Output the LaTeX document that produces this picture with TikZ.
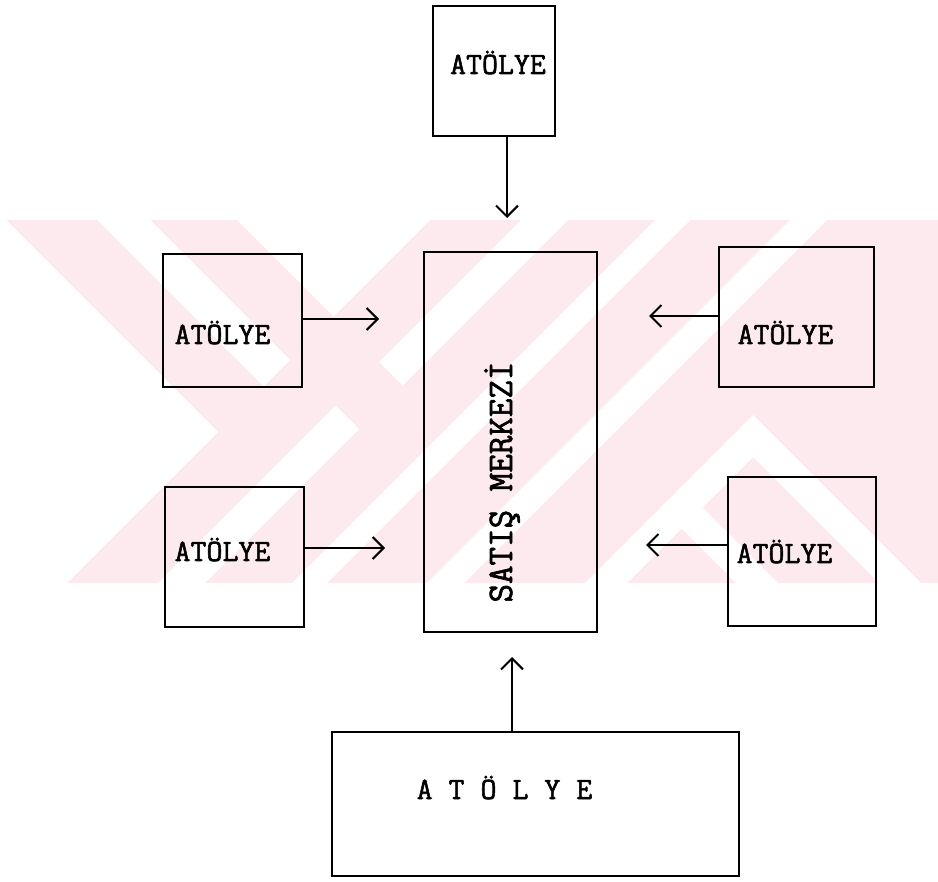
\documentclass[tikz,border=0pt]{standalone}
\usepackage{fontspec}
\setmonofont{Latin Modern Mono}[FakeBold=1.8]
\usetikzlibrary{arrows.meta}
\definecolor{wmpink}{RGB}{253,234,238}
\tikzset{
	kutu/.style={draw,line width=2.5pt,inner sep=0pt,outer sep=0pt},
	yazi/.style={font=\ttfamily\fontsize{31}{31}\selectfont,inner sep=0pt,anchor=base},
	ok/.style={->,line width=2.1pt},
}
\begin{document}
\begin{tikzpicture}[>={Straight Barb[length=11pt,width=22pt]},x=1pt,y=-1pt]
	\useasboundingbox (0,0) rectangle (938,882);
	% filigran
	\begin{scope}
		\clip (0,220) rectangle (938,583);
		\fill[wmpink] (0,220) rectangle (938,583);
		\fill[white] (0,220) -- (6,220) -- (218,432) -- (67,583) -- (0,583) -- cycle;
		\fill[white] (97,220) -- (150,220) -- (290,360) -- (263.5,386.5) -- cycle;
		\fill[white] (237,220) -- (430,220) -- (333.5,316.5) -- cycle;
		\fill[white] (521,220) -- (568,220) -- (402.5,385.5) -- (379,362) -- cycle;
		\fill[white] (335.5,405.5) -- (359,429) -- (205,583) -- (158,583) -- cycle;
		\fill[white] (655,220) -- (690,220) -- (327,583) -- (292,583) -- cycle;
		\fill[white] (790,220) -- (827,220) -- (464,583) -- (427,583) -- cycle;
		\fill[white] (585,583) -- (753,415) -- (921,583) -- (879,583) -- (753,457) -- (627,583) -- cycle;
		\fill[white] (683,488) -- (778,583) -- (736,583) -- (662,509) -- cycle;
	\end{scope}
	% kutular
	\node[kutu,minimum width=122pt,minimum height=130pt] (ust) at (494,71) {};
	\node[kutu,minimum width=173pt,minimum height=380pt] (merkez) at (510.5,442) {};
	\node[kutu,minimum width=139pt,minimum height=133pt] (solust) at (232.5,320.5) {};
	\node[kutu,minimum width=139pt,minimum height=140pt] (solalt) at (234.5,557) {};
	\node[kutu,minimum width=155pt,minimum height=140pt] (sagust) at (796.5,317) {};
	\node[kutu,minimum width=148pt,minimum height=149pt] (sagalt) at (802,551.5) {};
	\node[kutu,minimum width=407pt,minimum height=144pt] (alt) at (535.5,804) {};
	% yazilar
	\node[yazi] (tust) at (498,74) {ATÖLYE};
	\node[yazi] (tsolust) at (222.5,344) {ATÖLYE};
	\node[yazi] (tsolalt) at (222.5,561) {ATÖLYE};
	\node[yazi] (tsagust) at (785.5,344) {ATÖLYE};
	\node[yazi] (tsagalt) at (784.5,563) {ATÖLYE};
	\node[yazi] (talt) at (504.5,799) {A T Ö L Y E};
	\node[yazi,font=\ttfamily\fontsize{36}{36}\selectfont,rotate=90] (tmerkez) at (512,482) {SATIŞ MERKEZİ};
	% oklar
	\coordinate (ustuc) at (507,218);
	\coordinate (solustuc) at (379,319);
	\coordinate (solaltuc) at (385,548);
	\coordinate (sagustuc) at (649,316);
	\coordinate (sagaltuc) at (646,545);
	\coordinate (altuc) at (512,657);
	\draw[ok] (ust.south -| ustuc) -- (ustuc);
	\draw[ok] (solust.east |- solustuc) -- (solustuc);
	\draw[ok] (solalt.east |- solaltuc) -- (solaltuc);
	\draw[ok] (sagust.west |- sagustuc) -- (sagustuc);
	\draw[ok] (sagalt.west |- sagaltuc) -- (sagaltuc);
	\draw[ok] (alt.north -| altuc) -- (altuc);
\end{tikzpicture}
\end{document}
